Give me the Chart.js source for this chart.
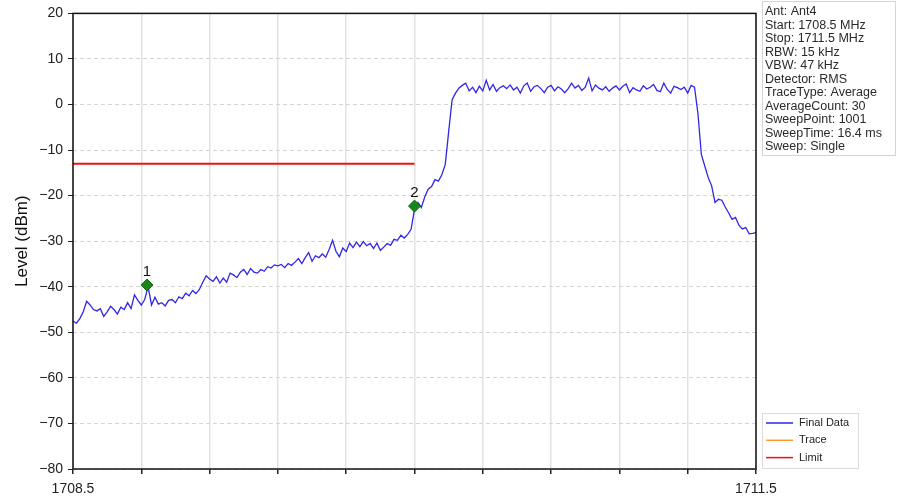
<!DOCTYPE html>
<html>
<head>
<meta charset="utf-8">
<title>Spectrum 1708.5 - 1711.5 MHz</title>
<script src="https://cdn.jsdelivr.net/npm/chart.js@4.4.1/dist/chart.umd.min.js"></script>
<style>
  html, body { margin: 0; padding: 0; background: #fff; }
  #wrap { width: 897px; height: 500px; }
</style>
</head>
<body>
<div id="wrap"><canvas id="spectrum" width="897" height="500"></canvas></div>
<script>
// sweep / axis settings
const startFreq = 1708.5;
const stopFreq = 1711.5;
const freqStep = 0.015;
const xTickValues = [1708.5, 1708.8, 1709.1, 1709.4, 1709.7, 1710.0, 1710.3, 1710.6, 1710.9, 1711.2, 1711.5];
const xTickLabels = ['1708.5', '', '', '', '', '', '', '', '', '', '1711.5'];
const yTickValues = [20, 10, 0, -10, -20, -30, -40, -50, -60, -70, -80];

// measured level (dBm), one value per freqStep from startFreq
const traceLevels = [
  -47.5, -48, -47, -45.5, -43.2, -44, -45, -45.3, -44.8, -46.5,
  -45.5, -44.3, -45, -46, -44.5, -45, -43.5, -44.8, -41.8, -43,
  -44, -42.8, -40, -44, -42.3, -43.8, -43.5, -44.2, -43, -42.8,
  -43.5, -42.2, -42.6, -41.4, -42, -40.8, -41.5, -40.6, -39, -37.6,
  -38.3, -38.8, -37.8, -39.2, -38.1, -39, -37, -37.4, -38, -36.8,
  -36.2, -37.3, -36,
  -36.8, -37, -36.2, -36.6, -35.6, -35.9, -35.2, -35.4, -35.1, -35.8,
  -34.9, -35.3, -34.6, -33.8, -34.9, -33.6, -32.5, -34.4, -33.2, -33.6,
  -32.8, -33.5, -31.8, -29.8, -32.2, -33.4, -31.5, -32.3, -30.4, -31.4,
  -30.2, -31.2, -30.1, -31, -30.5, -31.6, -30.4, -32, -31.3, -30.5,
  -30.9, -29.6, -29.8, -28.7, -29.3, -28.5, -27.4, -23,
  -21.5, -22.6, -20.3, -18.6, -18, -16.5, -16.8, -15.4, -13.2, -6, 1,
  2.5, 3.6, 4.2, 4.7, 3, 3.8, 2.6, 4, 3, 5.3,
  3.2, 4.4, 2.9, 3.7, 4.1, 3.5, 4.3, 3.2, 3.8, 2.5,
  4.1, 4.7, 2.9, 3.9, 4.2, 3.5, 2.6, 3.8, 4.2, 3,
  3.9, 3.4, 2.6, 3.5, 4.7, 3.6, 4.2, 3.1, 3.8, 5.8,
  3, 4.3, 3.6, 3.2, 3.9, 2.9, 3.6, 4.1, 3.2, 4,
  4.5, 2.6, 3.7, 3.2, 2.9, 4.1, 3.4, 3.8, 4.4, 3.1,
  2.8, 4.7, 3.3, 2.5, 4, 3.7, 3.3, 3.8, 2.5, 4.2,
  3.8,
  -2, -11, -13.5, -16, -17.8, -21.5, -20.8, -21, -22.5, -23.8,
  -25.2, -24.8, -26.5, -27.3, -27, -28.4, -28.3, -28.1
];

const limitFreqs = [1708.5, 1710.0];
const limitLevels = [-13, -13];

const markerNames = ['1', '2'];
const markerFreqs = [1708.825, 1710.0];
const markerLevels = [-39.6, -22.3];

const infoLines = [
  'Ant: Ant4',
  'Start: 1708.5 MHz',
  'Stop: 1711.5 MHz',
  'RBW: 15 kHz',
  'VBW: 47 kHz',
  'Detector: RMS',
  'TraceType: Average',
  'AverageCount: 30',
  'SweepPoint: 1001',
  'SweepTime: 16.4 ms',
  'Sweep: Single'
];

const FONT = "'Liberation Sans', Arial, sans-serif";

const tracePoints = traceLevels.map((v, i) => ({ x: startFreq + i * freqStep, y: v }));
const limitPoints = limitFreqs.map((f, i) => ({ x: f, y: limitLevels[i] }));
const markerPoints = markerFreqs.map((f, i) => ({ x: f, y: markerLevels[i] }));

// black frame round the plot area
const framePlugin = {
  id: 'frame',
  afterDatasetsDraw(chart) {
    const { ctx, chartArea: a } = chart;
    ctx.save();
    ctx.strokeStyle = '#111';
    ctx.lineWidth = 1.5;
    ctx.strokeRect(a.left, a.top, a.right - a.left, a.bottom - a.top);
    ctx.restore();
  }
};

// numbers above the markers
const markerLabelPlugin = {
  id: 'markerLabels',
  afterDatasetsDraw(chart) {
    const idx = chart.data.datasets.findIndex(d => d.isMarker);
    if (idx < 0) return;
    const meta = chart.getDatasetMeta(idx);
    const { ctx } = chart;
    ctx.save();
    ctx.font = '15px ' + FONT;
    ctx.fillStyle = '#111';
    ctx.textAlign = 'center';
    ctx.textBaseline = 'bottom';
    meta.data.forEach((pt, i) => {
      ctx.fillText(markerNames[i], pt.x, pt.y - 6);
    });
    ctx.restore();
  }
};

// settings text box and legend in the right margin
const sidePanelPlugin = {
  id: 'sidePanel',
  afterDraw(chart) {
    const { ctx } = chart;
    ctx.save();

    // info box
    ctx.fillStyle = '#fff';
    ctx.strokeStyle = '#d4d4d4';
    ctx.lineWidth = 1;
    ctx.fillRect(762.5, 1.5, 133, 154);
    ctx.strokeRect(762.5, 1.5, 133, 154);
    ctx.font = '12.5px ' + FONT;
    ctx.fillStyle = '#2a2a2a';
    ctx.textAlign = 'left';
    ctx.textBaseline = 'middle';
    infoLines.forEach((line, i) => {
      ctx.fillText(line, 765, 11.5 + i * 13.55);
    });

    // legend
    const items = chart.data.datasets.filter(d => !d.isMarker);
    ctx.fillStyle = '#fff';
    ctx.strokeStyle = '#dcdcdc';
    ctx.fillRect(762.5, 413.5, 96, 55);
    ctx.strokeRect(762.5, 413.5, 96, 55);
    ctx.font = '11px ' + FONT;
    items.forEach((d, i) => {
      const y = 423 + i * 17.3;
      ctx.strokeStyle = d.borderColor;
      ctx.lineWidth = 1.5;
      ctx.beginPath();
      ctx.moveTo(766, y);
      ctx.lineTo(793, y);
      ctx.stroke();
      ctx.fillStyle = '#222';
      ctx.fillText(d.label, 799, y);
    });
    ctx.restore();
  }
};

new Chart(document.getElementById('spectrum'), {
  type: 'line',
  data: {
    datasets: [
      {
        label: 'Final Data',
        data: tracePoints,
        borderColor: '#3127e6',
        borderWidth: 1.3,
        pointRadius: 0,
        tension: 0,
        order: 2
      },
      {
        label: 'Trace',
        data: [],
        borderColor: '#ff9a2e',
        borderWidth: 1.5,
        pointRadius: 0
      },
      {
        label: 'Limit',
        data: limitPoints,
        borderColor: '#f01010',
        borderWidth: 2,
        pointRadius: 0,
        order: 1
      },
      {
        label: 'Markers',
        isMarker: true,
        data: markerPoints,
        showLine: false,
        pointStyle: 'rectRot',
        pointRadius: 6,
        pointBackgroundColor: '#1a861a',
        pointBorderColor: '#126812',
        pointBorderWidth: 1,
        order: 0
      }
    ]
  },
  options: {
    responsive: false,
    animation: false,
    devicePixelRatio: 1,
    layout: { padding: { top: 12, right: 141, left: 0, bottom: 0 } },
    plugins: {
      legend: { display: false },
      tooltip: { enabled: false }
    },
    scales: {
      x: {
        type: 'linear',
        min: startFreq,
        max: stopFreq,
        afterBuildTicks: (scale) => {
          scale.ticks = xTickValues.map(v => ({ value: v }));
        },
        afterFit: (scale) => { scale.height = 31; },
        ticks: {
          autoSkip: false,
          maxRotation: 0,
          padding: 7,
          color: '#222',
          font: { family: FONT, size: 14 },
          callback: (value, index) => xTickLabels[index]
        },
        grid: {
          color: '#e2e2e2',
          lineWidth: 1.5,
          tickColor: '#222',
          tickLength: 5
        },
        border: { display: false }
      },
      y: {
        min: -80,
        max: 20,
        afterBuildTicks: (scale) => {
          scale.ticks = yTickValues.map(v => ({ value: v }));
        },
        afterFit: (scale) => { scale.width = 73; },
        ticks: {
          padding: 5,
          color: '#222',
          font: { family: FONT, size: 14 },
          callback: (value) => String(value).replace('-', '\u2212')
        },
        grid: {
          color: '#d4d4d4',
          lineWidth: 1,
          tickColor: '#222',
          tickLength: 5
        },
        border: { display: false, dash: [4, 3] },
        title: {
          display: true,
          text: 'Level (dBm)',
          color: '#111',
          font: { family: FONT, size: 17 },
          padding: { top: 12, bottom: 0 }
        }
      }
    }
  },
  plugins: [framePlugin, markerLabelPlugin, sidePanelPlugin]
});
</script>
</body>
</html>
